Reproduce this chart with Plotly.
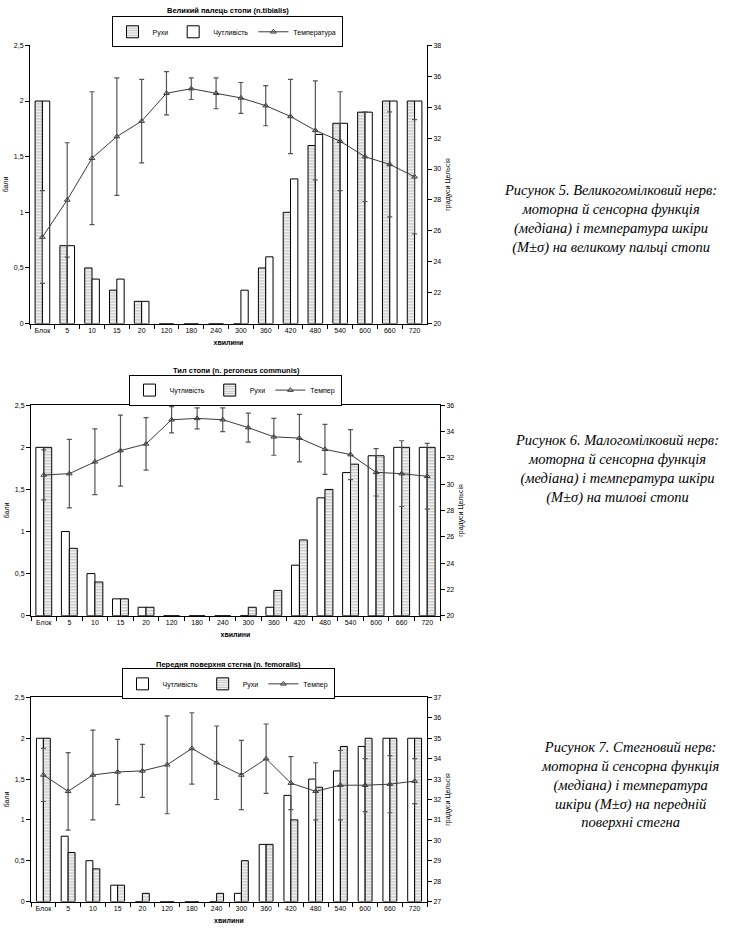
import plotly.graph_objects as go

# ---------------- data ----------------
categories = ["Блок", "5", "10", "15", "20", "120", "180", "240", "300", "360",
              "420", "480", "540", "600", "660", "720"]

# Figure 5 – n. tibialis (great toe)
motor1 = [2, 0.7, 0.5, 0.3, 0.2, 0, 0, 0, 0, 0.5, 1.0, 1.6, 1.8, 1.9, 2.0, 2.0]
sens1 = [2, 0.7, 0.4, 0.4, 0.2, 0, 0, 0, 0.3, 0.6, 1.3, 1.7, 1.8, 1.9, 2.0, 2.0]
temp1 = [25.6, 28.0, 30.7, 32.1, 33.1, 34.9, 35.2, 34.9, 34.6, 34.1, 33.4, 32.5, 31.8, 30.8, 30.3, 29.5]
sd1 = [3.0, 3.7, 4.3, 3.8, 2.7, 1.4, 0.7, 1.0, 1.0, 1.3, 2.4, 3.2, 3.2, 2.9, 3.4, 3.7]

# Figure 6 – n. peroneus communis (dorsum of foot)
sens2 = [2, 1.0, 0.5, 0.2, 0.1, 0, 0, 0, 0, 0.1, 0.6, 1.4, 1.7, 1.9, 2.0, 2.0]
motor2 = [2, 0.8, 0.4, 0.2, 0.1, 0, 0, 0, 0.1, 0.3, 0.9, 1.5, 1.8, 1.9, 2.0, 2.0]
temp2 = [30.7, 30.8, 31.7, 32.55, 33.06, 34.9, 35.0, 34.9, 34.3, 33.6, 33.5, 32.65, 32.25, 30.9, 30.8, 30.6]
sd2 = [1.9, 2.6, 2.5, 2.7, 2.0, 1.0, 0.8, 0.9, 1.1, 1.4, 1.8, 1.9, 1.9, 1.8, 2.5, 2.5]

# Figure 7 – n. femoralis (anterior thigh)
sens3 = [2, 0.8, 0.5, 0.2, 0, 0, 0, 0, 0.1, 0.7, 1.3, 1.5, 1.6, 1.9, 2.0, 2.0]
motor3 = [2, 0.6, 0.4, 0.2, 0.1, 0, 0, 0.1, 0.5, 0.7, 1.0, 1.4, 1.9, 2.0, 2.0, 2.0]
temp3 = [33.2, 32.4, 33.2, 33.35, 33.4, 33.7, 34.5, 33.8, 33.2, 34.0, 32.8, 32.4, 32.7, 32.7, 32.75, 32.9]
sd3 = [1.3, 1.9, 2.2, 1.6, 1.3, 2.4, 1.75, 1.8, 1.7, 1.7, 1.3, 1.4, 1.7, 1.3, 1.4, 1.1]

left_ticks = [0, 0.5, 1, 1.5, 2, 2.5]
left_labels = ["0", "0,5", "1", "1,5", "2", "2,5"]

titles = ["Великий палець стопи (n.tibialis)",
          "Тил стопи (n. peroneus communis)",
          "Передня поверхня стегна (n. femoralis)"]
captions = [
    "Рисунок 5. Великогомілковий нерв:<br>моторна й сенсорна функція<br>(медіана) і температура шкіри<br>(M±σ) на великому пальці стопи",
    "Рисунок 6. Малогомілковий нерв:<br>моторна й сенсорна функція<br>(медіана) і температура шкіри<br>(M±σ) на тилові стопи",
    "Рисунок 7. Стегновий нерв:<br>моторна й сенсорна функція<br>(медіана) і температура<br>шкіри (M±σ) на передній<br>поверхні стегна",
]

# ---------------- layout helpers ----------------
W, H = 729, 932
FONT = "Liberation Sans"


def fx(p):
    return p / W


def fy(p):
    return 1 - p / H


charts = [
    dict(bars=[("Рухи", motor1, True), ("Чутливість", sens1, False)],
         temp=temp1, sd=sd1, tname="Температура",
         xdom=(30, 427), ydom=(41.7, 322), rrange=(20, 38), rdtick=2, bw=0.295,
         top_line=False, title_xy=(228, 7), legend_xy=(227, 28),
         caption_xy=(610, 216.5)),
    dict(bars=[("Чутливість", sens2, False), ("Рухи", motor2, True)],
         temp=temp2, sd=sd2, tname="Темпер",
         xdom=(31, 440), ydom=(404.3, 616.3), rrange=(20, 36), rdtick=2, bw=0.31,
         top_line=True, title_xy=(236, 369), legend_xy=(235, 389),
         caption_xy=(617, 469)),
    dict(bars=[("Чутливість", sens3, False), ("Рухи", motor3, True)],
         temp=temp3, sd=sd3, tname="Темпер",
         xdom=(31, 427), ydom=(698.7, 904.3), rrange=(27, 37), rdtick=1, bw=0.28,
         top_line=True, title_xy=(228, 665), legend_xy=(228, 685),
         caption_xy=(630, 786.5)),
]

fig = go.Figure()
layout = dict(
    width=W, height=H, margin=dict(l=0, r=0, t=0, b=0),
    paper_bgcolor="white", plot_bgcolor="white",
    barmode="overlay", showlegend=True,
    font=dict(family=FONT, size=7, color="black"),
)
annotations = []

for i, c in enumerate(charts):
    xa = "x" if i == 0 else f"x{i + 1}"
    yl = f"y{2 * i + 1}" if i > 0 else "y"
    yr = f"y{2 * i + 2}"
    leg = "legend" if i == 0 else f"legend{i + 1}"
    bw = c["bw"]

    for j, (name, vals, hatched) in enumerate(c["bars"]):
        marker = dict(color="white", line=dict(color="black", width=1))
        if hatched:
            marker["pattern"] = dict(shape="-", fgcolor="#808080", bgcolor="white",
                                     size=3, solidity=0.5)
        fig.add_trace(go.Bar(
            x=categories, y=vals, name=name, xaxis=xa, yaxis=yl,
            width=bw, offset=(-bw if j == 0 else 0), marker=marker,
            legend=leg, hoverinfo="skip"))

    fig.add_trace(go.Scatter(
        x=categories, y=c["temp"], name=c["tname"], xaxis=xa, yaxis=yr,
        mode="lines+markers", legend=leg,
        line=dict(color="#3a3a3a", width=1),
        marker=dict(symbol="triangle-up-open", size=5, color="#3a3a3a",
                    line=dict(width=1)),
        error_y=dict(type="data", array=c["sd"], visible=True, color="#555555",
                     thickness=1.2, width=2.5)))

    xkey = "xaxis" if i == 0 else f"xaxis{i + 1}"
    ylkey = "yaxis" if i == 0 else f"yaxis{2 * i + 1}"
    yrkey = f"yaxis{2 * i + 2}"
    axis_common = dict(showline=True, linecolor="black", linewidth=1,
                       ticks="outside", ticklen=4, tickcolor="black", tickwidth=1,
                       showgrid=False, zeroline=False, fixedrange=True,
                       tickfont=dict(family=FONT, size=7, color="black"))
    layout[xkey] = dict(
        axis_common, domain=[fx(c["xdom"][0]), fx(c["xdom"][1])],
        anchor=yl, type="category", range=[-0.5, 15.5], tickson="boundaries",
        tickangle=0, mirror=c["top_line"],
        title=dict(text="<b>хвилини</b>", font=dict(size=7, family=FONT), standoff=7))
    layout[ylkey] = dict(
        axis_common, domain=[fy(c["ydom"][1]), fy(c["ydom"][0])], anchor=xa,
        range=[0, 2.5], tickvals=left_ticks, ticktext=left_labels,
        title=dict(text="бали", font=dict(size=7, family=FONT), standoff=4))
    layout[yrkey] = dict(
        axis_common, overlaying=yl, side="right", anchor=xa,
        range=list(c["rrange"]), dtick=c["rdtick"], tick0=c["rrange"][0],
        title=dict(text="градуси Цельсія", font=dict(size=7, family=FONT), standoff=4))

    layout[leg] = dict(
        x=fx(c["legend_xy"][0]), y=fy(c["legend_xy"][1]), xanchor="center",
        yanchor="middle",
        orientation="h", bordercolor="black", borderwidth=1, bgcolor="white",
        font=dict(family=FONT, size=7), itemwidth=30, traceorder="normal",
        tracegroupgap=0)

    annotations.append(dict(
        text="<b>" + titles[i] + "</b>", x=fx(c["title_xy"][0]), y=fy(c["title_xy"][1]),
        xref="paper", yref="paper", showarrow=False, xanchor="center", yanchor="middle",
        font=dict(family=FONT, size=7.5, color="black")))
    annotations.append(dict(
        text=captions[i], x=fx(c["caption_xy"][0]), y=fy(c["caption_xy"][1]),
        xref="paper", yref="paper", showarrow=False, xanchor="center", yanchor="middle",
        align="center",
        font=dict(family="Liberation Serif", size=14.5, color="black", style="italic")))

layout["annotations"] = annotations
fig.update_layout(**layout)

fig.write_html("out.html", post_script="document.body.style.margin='0';",
               config={"displayModeBar": False})
